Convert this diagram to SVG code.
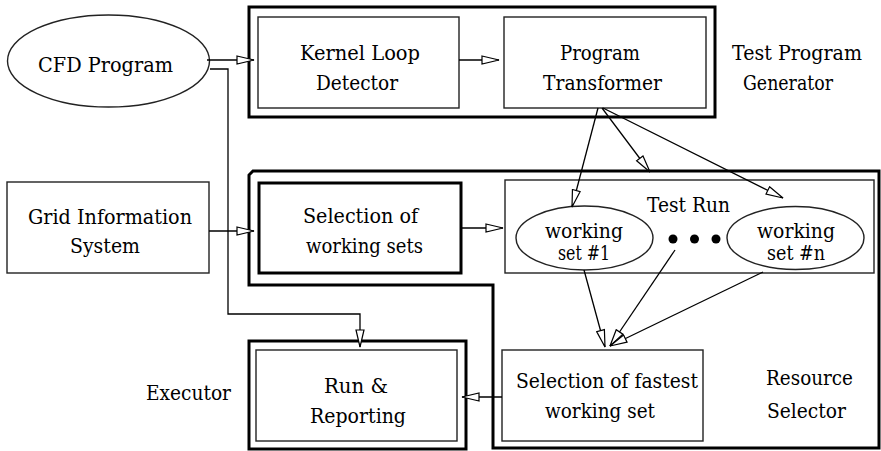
<svg xmlns="http://www.w3.org/2000/svg" width="881" height="451" viewBox="0 0 881 451">
<defs>
<style>
text{font-family:'DejaVu Serif',serif;font-size:21px;fill:#000;text-anchor:middle}
text.sm{font-size:20px}
.thin{fill:none;stroke:#222;stroke-width:1.4}
.thick{fill:none;stroke:#000;stroke-width:3}
.conn{fill:none;stroke:#000;stroke-width:1.3;marker-end:url(#arr)}
</style>
<marker id="arr" viewBox="-1 -1 19 10" markerWidth="19" markerHeight="10" refX="17" refY="4" orient="auto" markerUnits="userSpaceOnUse">
<path d="M0,0 L17,4 L0,8 Z" fill="#fff" stroke="#000" stroke-width="1.2"/>
</marker>
</defs>
<rect width="881" height="451" fill="#fff"/>

<g id="test-program-generator">
<rect class="thick" x="249" y="7" width="466" height="110"/>
<text x="797" y="60" textLength="130" lengthAdjust="spacingAndGlyphs">Test Program</text>
<text x="788" y="90" textLength="90" lengthAdjust="spacingAndGlyphs">Generator</text>
</g>
<g id="resource-selector">
<path class="thick" d="M253,171 L879,171 L879,448 L493,448 L493,285 L249,285 L249,175 Z"/>
<text x="809.5" y="385" textLength="87" lengthAdjust="spacingAndGlyphs">Resource</text>
<text x="806.5" y="418" textLength="79" lengthAdjust="spacingAndGlyphs">Selector</text>
</g>
<g id="executor">
<rect class="thick" x="249" y="341" width="217" height="108"/>
<text x="188.5" y="400" textLength="85" lengthAdjust="spacingAndGlyphs">Executor</text>
</g>

<g id="cfd-program">
<ellipse class="thin" cx="108.5" cy="61" rx="101" ry="46" stroke="#000"/>
<text x="105.5" y="72" textLength="135" lengthAdjust="spacingAndGlyphs">CFD Program</text>
</g>
<g id="kernel-loop-detector">
<rect class="thin" x="258" y="17" width="201" height="91"/>
<text x="360" y="60" textLength="120" lengthAdjust="spacingAndGlyphs">Kernel Loop</text>
<text x="357" y="90" textLength="82" lengthAdjust="spacingAndGlyphs">Detector</text>
</g>
<g id="program-transformer">
<rect class="thin" x="504" y="17" width="202" height="91"/>
<text x="600" y="60" textLength="80" lengthAdjust="spacingAndGlyphs">Program</text>
<text x="602.5" y="90" textLength="119" lengthAdjust="spacingAndGlyphs">Transformer</text>
</g>
<g id="grid-information-system">
<rect class="thin" x="7" y="182" width="202" height="91"/>
<text x="110" y="224" textLength="164" lengthAdjust="spacingAndGlyphs">Grid Information</text>
<text x="105" y="253" textLength="70" lengthAdjust="spacingAndGlyphs">System</text>
</g>
<g id="selection-of-working-sets">
<rect class="thick" x="259" y="183" width="202" height="90"/>
<text x="360.5" y="223" textLength="115" lengthAdjust="spacingAndGlyphs">Selection of</text>
<text x="364.5" y="253" textLength="117" lengthAdjust="spacingAndGlyphs">working sets</text>
</g>
<g id="test-run">
<rect class="thin" x="505" y="180" width="369" height="93"/>
<text x="688.5" y="212" textLength="83" lengthAdjust="spacingAndGlyphs">Test Run</text>
</g>
<g id="working-set-1">
<ellipse class="thin" cx="584.5" cy="238" rx="68.5" ry="32" stroke="#000"/>
<text class="sm" x="584" y="238" textLength="78" lengthAdjust="spacingAndGlyphs">working</text>
<text class="sm" x="584" y="260" textLength="52" lengthAdjust="spacingAndGlyphs">set #1</text>
</g>
<g id="dots">
<circle cx="673" cy="239" r="4.5" fill="#000"/>
<circle cx="694.5" cy="239" r="4.5" fill="#000"/>
<circle cx="716" cy="239" r="4.5" fill="#000"/>
</g>
<g id="working-set-n">
<ellipse class="thin" cx="795.5" cy="238" rx="68.5" ry="31.5" stroke="#000"/>
<text class="sm" x="796" y="238" textLength="78" lengthAdjust="spacingAndGlyphs">working</text>
<text class="sm" x="796" y="260" textLength="58" lengthAdjust="spacingAndGlyphs">set #n</text>
</g>
<g id="selection-of-fastest-working-set">
<rect class="thin" x="502" y="350" width="201" height="91"/>
<text x="607" y="388" textLength="182" lengthAdjust="spacingAndGlyphs">Selection of fastest</text>
<text x="600" y="418" textLength="110" lengthAdjust="spacingAndGlyphs">working set</text>
</g>
<g id="run-reporting">
<rect class="thin" x="256" y="350" width="201" height="91"/>
<text x="356" y="393" textLength="64" lengthAdjust="spacingAndGlyphs">Run &amp;</text>
<text x="358" y="423" textLength="96" lengthAdjust="spacingAndGlyphs">Reporting</text>
</g>

<g id="connectors">
<path class="conn" d="M207,60 L254,60"/>
<path class="conn" d="M459,60 L499,60"/>
<path class="conn" d="M210,69 L228,69 L228,314 L360,314 L360,347"/>
<path class="conn" d="M209,231 L254,231"/>
<path class="conn" d="M461,228 L503,228"/>
<path class="conn" d="M598,108 L572,207"/>
<path class="conn" d="M602,108 L650,172"/>
<path class="conn" d="M603,108 L783,198"/>
<path class="conn" d="M584,270 L605,347"/>
<path class="conn" d="M675,250 L610,346"/>
<path class="conn" d="M763,272 L610,346"/>
<path class="conn" d="M502,397 L462,397"/>
</g>
</svg>
